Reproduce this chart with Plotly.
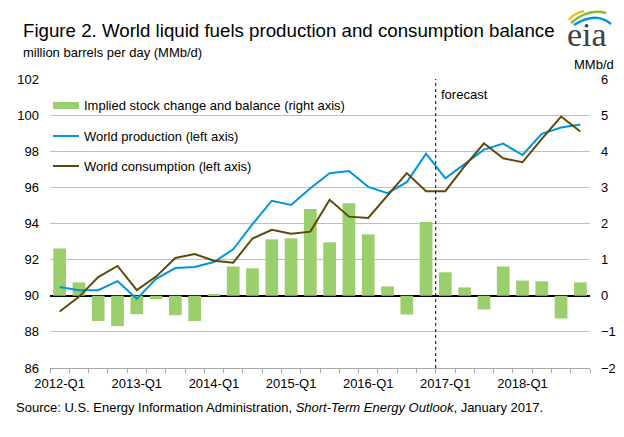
import plotly.graph_objects as go

# quarters 2012-Q1 .. 2018-Q4
quarters = [f"{yr}-Q{q}" for yr in range(2012, 2019) for q in range(1, 5)]

production = [90.48, 90.31, 90.31, 90.81, 89.83, 90.94, 91.53, 91.59,
              91.87, 92.57, 93.96, 95.26, 95.03, 95.95, 96.78, 96.91,
              96.03, 95.68, 96.29, 97.87, 96.50, 97.29, 98.09, 98.42,
              97.79, 98.96, 99.31, 99.48]
consumption = [89.13, 89.94, 91.03, 91.65, 90.31, 91.06, 92.09, 92.31,
               91.94, 91.83, 93.17, 93.65, 93.43, 93.55, 95.31, 94.38,
               94.31, 95.53, 96.79, 95.79, 95.79, 97.17, 98.44, 97.61,
               97.39, 98.68, 99.92, 99.09]
balance = [1.31, 0.37, -0.70, -0.84, -0.51, -0.09, -0.54, -0.70,
           0.04, 0.81, 0.76, 1.56, 1.59, 2.40, 1.48, 2.56,
           1.70, 0.26, -0.52, 2.04, 0.65, 0.23, -0.38, 0.81,
           0.42, 0.40, -0.63, 0.37]

tick_text = [q if q.endswith("Q1") else "" for q in quarters]
legend_names = ["Implied stock change and balance (right axis)",
                "World production (left axis)",
                "World consumption (left axis)"]

GREEN = "#9BCF6E"
BLUE = "#0096D7"
BROWN = "#5C4A0C"
GRID = "#BFBFBF"
FONT = "Arial, Liberation Sans, sans-serif"

# the page body has an 8px margin, so the figure is shrunk to fit the window
OFF = 8
W, H = 624 - OFF, 437 - OFF
# plot area in page pixels: x 50..590, y 79..368
L, R, T, B = 50 - OFF, 624 - 590, 79 - OFF, 437 - 368


def px(x):
    return (x - OFF - L) / (W - L - R)


def py(y):
    return (H - B - (y - OFF)) / (H - T - B)


fig = go.Figure()
fig.add_trace(go.Bar(x=quarters, y=balance, marker_color=GREEN,
                     marker_line_width=0, yaxis="y", name=legend_names[0]))
fig.add_trace(go.Scatter(x=quarters, y=production, mode="lines",
                         line=dict(color=BLUE, width=2), yaxis="y2",
                         name=legend_names[1]))
fig.add_trace(go.Scatter(x=quarters, y=consumption, mode="lines",
                         line=dict(color=BROWN, width=2), yaxis="y2",
                         name=legend_names[2]))

shapes = [
    # forecast divider
    dict(type="line", xref="x", yref="paper", x0=19.5, x1=19.5, y0=0, y1=1,
         line=dict(color="black", width=1, dash="3px,3px")),
    # legend swatches
    dict(type="rect", xref="paper", yref="paper", x0=px(53), x1=px(79),
         y0=py(109), y1=py(102), fillcolor=GREEN, line_width=0),
    dict(type="line", xref="paper", yref="paper", x0=px(53), x1=px(79),
         y0=py(136), y1=py(136), line=dict(color=BLUE, width=2)),
    dict(type="line", xref="paper", yref="paper", x0=px(53), x1=px(79),
         y0=py(166), y1=py(166), line=dict(color=BROWN, width=2)),
]

# eia logo swooshes
for pts, col, wd in [
    ([(569, 20), (574, 13), (584, 11)], "#F2C417", 2.5),
    ([(571, 23), (588, 8), (606, 13)], "#7DBE3C", 2.5),
    ([(574, 25), (596, 11), (611, 24)], "#0096D7", 2.5),
]:
    (x0, y0), (x1, y1), (x2, y2) = pts
    path = (f"M {px(x0)},{py(y0)} Q {px(x1)},{py(y1)} {px(x2)},{py(y2)}")
    shapes.append(dict(type="path", xref="paper", yref="paper", path=path,
                       line=dict(color=col, width=wd)))

annotations = [
    dict(text="Figure 2. World liquid fuels production and consumption balance",
         x=px(21), y=py(31), xanchor="left", yanchor="middle",
         font=dict(size=18.7, color="black")),
    dict(text="million barrels per day (MMb/d)", x=px(21), y=py(53),
         xanchor="left", yanchor="middle", font=dict(size=13, color="black")),
    dict(text="MMb/d", x=px(616), y=py(65), xanchor="right", yanchor="middle",
         font=dict(size=13, color="black")),
    dict(text="forecast", x=px(439), y=py(94), xanchor="left", yanchor="middle",
         font=dict(size=13, color="black")),
    dict(text="Source: U.S. Energy Information Administration, "
              "<i>Short-Term Energy Outlook</i>, January 2017.",
         x=px(14), y=py(408), xanchor="left", yanchor="middle",
         font=dict(size=13, color="black")),
    dict(text="eia", x=px(587), y=py(34), xanchor="center", yanchor="middle",
         font=dict(size=34, color="#404040", family="Liberation Serif, serif")),
]
for name, yc in zip(legend_names, [105, 136, 166]):
    annotations.append(dict(text=name, x=px(82), y=py(yc), xanchor="left",
                            yanchor="middle", font=dict(size=13, color="black")))
for a in annotations:
    a.update(xref="paper", yref="paper", showarrow=False)

fig.update_layout(
    width=W, height=H,
    margin=dict(l=L, r=R, t=T, b=B, autoexpand=False),
    paper_bgcolor="white", plot_bgcolor="white",
    font=dict(family=FONT, size=13, color="black"),
    showlegend=False, bargap=0.34,
    shapes=shapes, annotations=annotations,
    xaxis=dict(type="category", categoryorder="array", categoryarray=quarters,
               tickvals=quarters, ticktext=tick_text, tickson="boundaries",
               ticks="outside", ticklen=4, tickcolor="#A6A6A6", tickangle=0,
               showline=True, linecolor="#A6A6A6", showgrid=False,
               tickfont=dict(size=13), ticklabelstandoff=3, automargin=False),
    yaxis=dict(side="right", range=[-2, 6], dtick=1, showgrid=True,
               gridcolor=GRID, gridwidth=1, zeroline=True,
               zerolinecolor="black", zerolinewidth=1.5,
               ticklabelstandoff=10, tickfont=dict(size=13), automargin=False),
    yaxis2=dict(side="left", overlaying="y", range=[86, 102], dtick=2,
                showgrid=False, zeroline=False, ticklabelstandoff=10,
                tickfont=dict(size=13), automargin=False),
)

fig.write_html("out.html")
